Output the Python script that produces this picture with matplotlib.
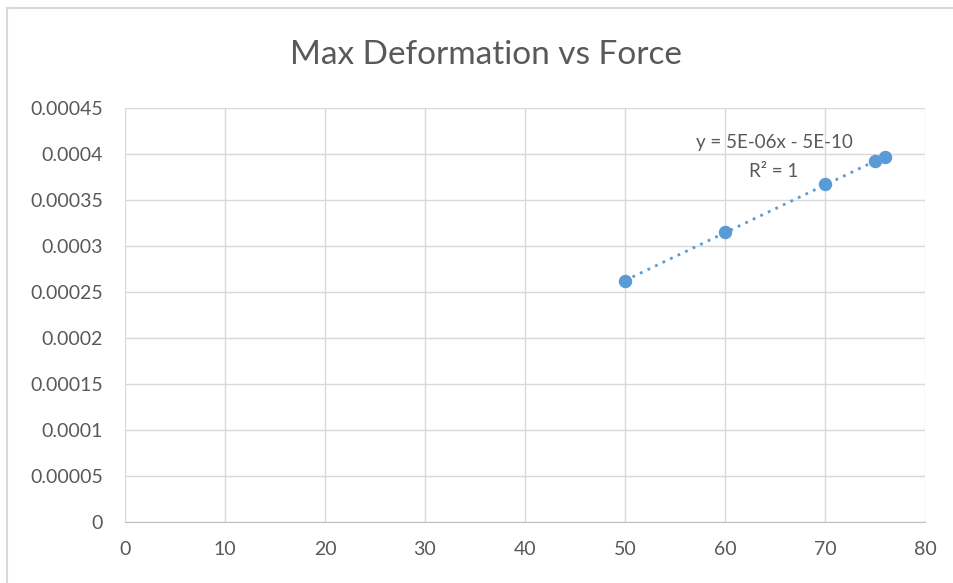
import matplotlib.pyplot as plt
from matplotlib.lines import Line2D
import numpy as np

plt.rcParams['font.family'] = ['Lato', 'DejaVu Sans']

force = [50, 60, 70, 75, 76]
deformation = [0.000262, 0.000315, 0.000367, 0.000392, 0.000397]
x_ticks = [0, 10, 20, 30, 40, 50, 60, 70, 80]
y_ticks = [0, 0.00005, 0.0001, 0.00015, 0.0002, 0.00025, 0.0003, 0.00035, 0.0004, 0.00045]
y_labels = ['0', '0.00005', '0.0001', '0.00015', '0.0002', '0.00025',
            '0.0003', '0.00035', '0.0004', '0.00045']

blue = '#5B9BD5'
txt = '#595959'
grid = '#D9D9D9'

W, H = 954, 583
fig = plt.figure(figsize=(W / 100, H / 100), dpi=100)
ax = fig.add_axes([125 / W, 1 - 522 / H, 800 / W, 414 / H])

# chart-area border (top and left edges)
fig.add_artist(Line2D([7 / W, 1], [1 - 8 / H, 1 - 8 / H], color='#D9D9D9', lw=1.5))
fig.add_artist(Line2D([7 / W, 7 / W], [0, 1 - 8 / H], color='#D9D9D9', lw=1.5))

# linear trendline through the points
slope, intercept = np.polyfit(force, deformation, 1)
xs = np.array([min(force), max(force)])
ax.plot(xs, slope * xs + intercept, color=blue, lw=2, ls=(0, (1, 2)), zorder=2)
ax.scatter(force, deformation, s=75, color=blue, zorder=3)

ax.set_xlim(0, 80)
ax.set_ylim(0, 0.00045)
ax.set_xticks(x_ticks)
ax.set_yticks(y_ticks)
ax.set_yticklabels(y_labels)
ax.grid(True, color=grid, lw=1)
ax.set_axisbelow(True)
for s in ['top', 'right', 'left']:
    ax.spines[s].set_visible(False)
ax.spines['bottom'].set_color('#BFBFBF')
ax.tick_params(length=0, colors=txt, labelsize=14)
ax.tick_params(axis='x', pad=14)
ax.tick_params(axis='y', pad=16)

ax.text(64.9, 0.000412, 'y = 5E-06x - 5E-10', ha='center', va='center', color=txt, fontsize=13.5)
ax.text(64.9, 0.0003815, 'R² = 1', ha='center', va='center', color=txt, fontsize=13.5)

fig.text(486 / W, 1 - 55 / H, 'Max Deformation vs Force', ha='center', va='center',
         color=txt, fontsize=24)

fig.savefig('out.png', dpi=100)
